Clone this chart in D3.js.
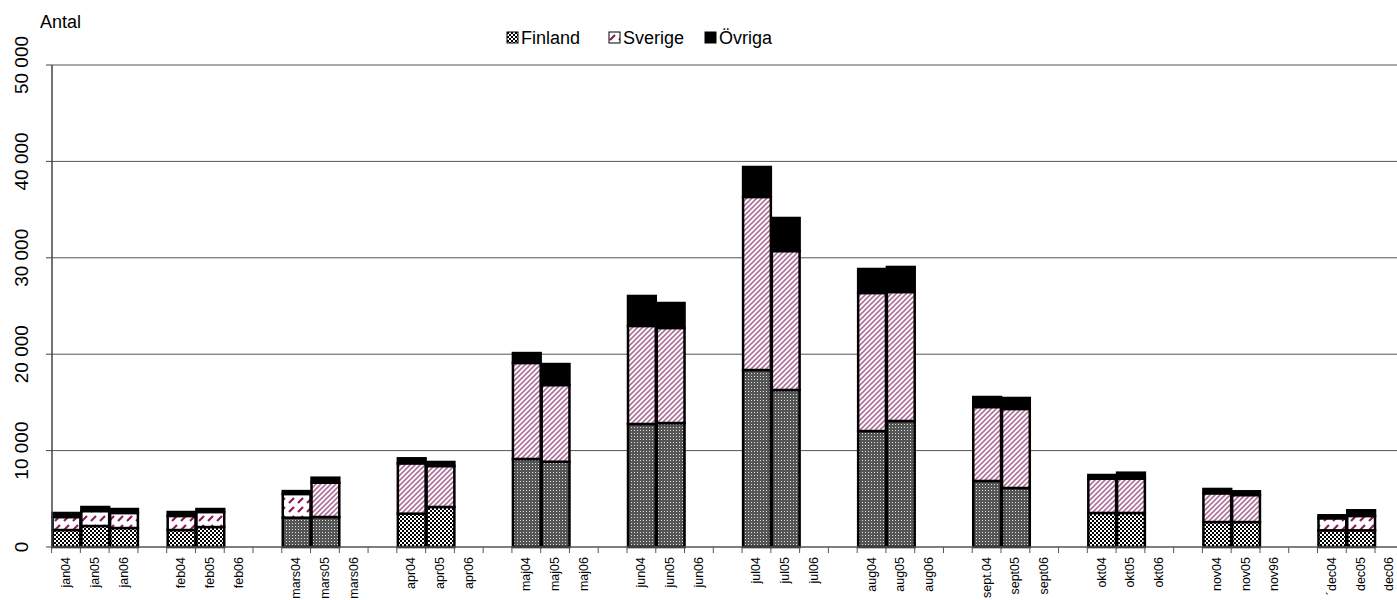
<!DOCTYPE html>
<html>
<head>
<meta charset="utf-8">
<script src="https://cdn.jsdelivr.net/npm/d3@7"></script>
<style>
body { margin: 0; background: #fff; }
svg { display: block; font-family: "Liberation Sans", Arial, sans-serif; }
</style>
</head>
<body>
<div id="chart"></div>
<script>
const categories = [
  "jan04", "jan05", "jan06", "",
  "feb04", "feb05", "feb06", "",
  "mars04", "mars05", "mars06", "",
  "apr04", "apr05", "apr06", "",
  "maj04", "maj05", "maj06", "",
  "jun04", "jun05", "jun06", "",
  "jul04", "jul05", "jul06", "",
  "aug04", "aug05", "aug06", "",
  "sept.04", "sept05", "sept06", "",
  "okt04", "okt05", "okt06", "",
  "nov04", "nov05", "nov96", "",
  "´dec04", "dec05", "dec06"
];

const finland = [
  1760, 2180, 1970, null,
  1760, 2070, null, null,
  3040, 3110, null, null,
  3460, 4150, null, null,
  9130, 8850, null, null,
  12760, 12860, null, null,
  18360, 16290, null, null,
  12030, 13070, null, null,
  6850, 6120, null, null,
  3530, 3530, null, null,
  2590, 2590, null, null,
  1730, 1730, null
];

const sverige = [
  1350, 1550, 1560, null,
  1460, 1560, null, null,
  2460, 3560, null, null,
  5220, 4250, null, null,
  9960, 7950, null, null,
  10170, 9860, null, null,
  17950, 14410, null, null,
  14320, 13380, null, null,
  7670, 8200, null, null,
  3560, 3560, null, null,
  2980, 2800, null, null,
  1250, 1490, null
];

const ovriga = [
  420, 420, 410, null,
  410, 310, null, null,
  300, 520, null, null,
  520, 420, null, null,
  1030, 2180, null, null,
  3110, 2590, null, null,
  3110, 3430, null, null,
  2490, 2600, null, null,
  1040, 1140, null, null,
  380, 620, null, null,
  450, 390, null, null,
  310, 590, null
];

const seriesNames = ["Finland", "Sverige", "Övriga"];
const yTicks = [0, 10000, 20000, 30000, 40000, 50000];

const width = 1397;
const height = 600;
const margin = {top: 65, bottom: 53, left: 52};
const slot = 28.77;

// which bars were drawn with the coarse fill in the original
const coarseCheck = new Set(["jan04","jan05","jan06","feb04","feb05","apr04","apr05",
  "okt04","okt05","nov04","nov05","´dec04","dec05"]);
const coarseStripe = new Set(["jan04","jan05","jan06","feb04","feb05","mars04","´dec04","dec05"]);

const svg = d3.select("#chart")
  .append("svg")
  .attr("width", width)
  .attr("height", height);

const defs = svg.append("defs");

// coarse black/white checker
const pc = defs.append("pattern").attr("id", "checkCoarse")
  .attr("width", 4).attr("height", 4).attr("patternUnits", "userSpaceOnUse");
pc.append("rect").attr("width", 4).attr("height", 4).attr("fill", "#fff");
pc.append("rect").attr("width", 2).attr("height", 2).attr("fill", "#000");
pc.append("rect").attr("x", 2).attr("y", 2).attr("width", 2).attr("height", 2).attr("fill", "#000");

// fine grey dotted
const pf = defs.append("pattern").attr("id", "checkFine")
  .attr("width", 3).attr("height", 3).attr("patternUnits", "userSpaceOnUse");
pf.append("rect").attr("width", 3).attr("height", 3).attr("fill", "#555");
pf.append("rect").attr("x", 1).attr("y", 1).attr("width", 1).attr("height", 1).attr("fill", "#ddd");

// coarse purple dashes
const sc = defs.append("pattern").attr("id", "stripeCoarse")
  .attr("width", 9).attr("height", 9).attr("patternUnits", "userSpaceOnUse");
sc.append("rect").attr("width", 9).attr("height", 9).attr("fill", "#fff");
sc.append("path").attr("d", "M1,8 L6,3").attr("stroke", "#8b1a5c").attr("stroke-width", 2.2);

// fine pink stripes
const sf = defs.append("pattern").attr("id", "stripeFine")
  .attr("width", 5).attr("height", 5).attr("patternUnits", "userSpaceOnUse");
sf.append("rect").attr("width", 5).attr("height", 5).attr("fill", "#fff");
sf.append("path").attr("d", "M-1,1 L1,-1 M0,5 L5,0 M4,6 L6,4")
  .attr("stroke", "#b0709c").attr("stroke-width", 1.6);

const x = d3.scaleBand()
  .domain(d3.range(categories.length))
  .range([margin.left - 0.4, margin.left - 0.4 + slot * categories.length])
  .padding(0);

const y = d3.scaleLinear()
  .domain([0, 50000])
  .range([height - margin.bottom, margin.top]);

// gridlines
svg.append("g")
  .selectAll("line")
  .data(yTicks.slice(1))
  .join("line")
  .attr("x1", margin.left).attr("x2", width)
  .attr("y1", d => y(d)).attr("y2", d => y(d))
  .attr("stroke", "#555").attr("stroke-width", 1);

// stacked data
const rows = categories.map((c, i) => ({
  i, c, Finland: finland[i] || 0, Sverige: sverige[i] || 0, "Övriga": ovriga[i] || 0
})).filter(d => finland[d.i] != null);

const stack = d3.stack().keys(seriesNames)(rows);

function fillFor(key, d) {
  if (key === "Finland") return coarseCheck.has(d.data.c) ? "url(#checkCoarse)" : "url(#checkFine)";
  if (key === "Sverige") return coarseStripe.has(d.data.c) ? "url(#stripeCoarse)" : "url(#stripeFine)";
  return "#000";
}

svg.append("g")
  .selectAll("g")
  .data(stack)
  .join("g")
  .each(function(s) {
    d3.select(this).selectAll("rect")
      .data(s)
      .join("rect")
      .attr("x", d => x(d.data.i) + 1)
      .attr("width", x.bandwidth() - 1)
      .attr("y", d => y(d[1]))
      .attr("height", d => y(d[0]) - y(d[1]))
      .attr("fill", d => fillFor(s.key, d))
      .attr("stroke", "#000")
      .attr("stroke-width", 2.5);
  });

// y axis
const yAxis = svg.append("g")
  .attr("transform", `translate(${margin.left},0)`);
yAxis.append("line")
  .attr("y1", y(0)).attr("y2", y(50000))
  .attr("stroke", "#444").attr("stroke-width", 1.5);
yAxis.selectAll(".tick")
  .data(yTicks)
  .join("line")
  .attr("x1", -6).attr("x2", 0)
  .attr("y1", d => y(d)).attr("y2", d => y(d))
  .attr("stroke", "#444");
yAxis.selectAll("text")
  .data(yTicks)
  .join("text")
  .attr("transform", d => `translate(-24,${y(d)}) rotate(-90)`)
  .attr("text-anchor", "middle")
  .attr("font-size", 19)
  .attr("fill", "#000")
  .text(d => d3.format(",")(d).replace(/,/g, " "));

// x axis
const xAxis = svg.append("g");
xAxis.append("line")
  .attr("x1", margin.left).attr("x2", width)
  .attr("y1", y(0)).attr("y2", y(0))
  .attr("stroke", "#555").attr("stroke-width", 1.5);
xAxis.selectAll("line.tick")
  .data(d3.range(categories.length + 1))
  .join("line")
  .attr("class", "tick")
  .attr("x1", d => x.range()[0] + d * x.step()).attr("x2", d => x.range()[0] + d * x.step())
  .attr("y1", y(0)).attr("y2", y(0) + 6)
  .attr("stroke", "#555");
xAxis.selectAll("text")
  .data(categories.map((c, i) => ({c, i})).filter(d => d.c))
  .join("text")
  .attr("transform", d => `translate(${x(d.i) + x.bandwidth() / 2 + 4},${y(0) + 10}) rotate(-90)`)
  .attr("text-anchor", "end")
  .attr("font-size", 12.5)
  .attr("fill", "#000")
  .text(d => d.c);

svg.append("text")
  .attr("x", 40).attr("y", 28)
  .attr("font-size", 18)
  .text("Antal");

// legend
const legendFills = ["url(#checkCoarse)", "url(#stripeCoarse)", "#000"];
const legendX = [507, 609, 705];
const lg = svg.append("g").selectAll("g.leg")
  .data(seriesNames)
  .join("g")
  .attr("class", "leg")
  .attr("transform", (d, i) => `translate(${legendX[i]},32)`);
lg.append("rect")
  .attr("width", 11).attr("height", 11)
  .attr("fill", (d, i) => legendFills[i])
  .attr("stroke", "#000").attr("stroke-width", 1);
lg.append("text")
  .attr("x", 14).attr("y", 12)
  .attr("font-size", 18)
  .text(d => d);
</script>
</body>
</html>
